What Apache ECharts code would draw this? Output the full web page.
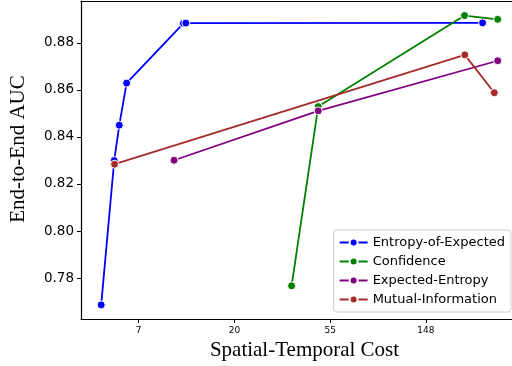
<!DOCTYPE html>
<html><head><meta charset="utf-8">
<script src="https://cdn.jsdelivr.net/npm/echarts@6/dist/echarts.min.js"></script>
<style>html,body{margin:0;padding:0;background:#fff;overflow:hidden;width:512px;height:366px}#c{width:518px;height:366px}</style>
</head><body><div id="c"></div>
<script>
const seriesNames = ['Entropy-of-Expected', 'Confidence', 'Expected-Entropy', 'Mutual-Information'];
const colors = ['#0000ff', '#008000', '#800080', '#a52a2a'];

const eoeCost = [5.0, 5.73, 6.04, 6.52, 11.8, 12.1, 268];
const eoeAUC  = [0.7686, 0.830, 0.845, 0.8629, 0.8883, 0.8884, 0.8885];

const confCost = [36.5, 48.2, 222, 314];
const confAUC  = [0.7767, 0.8529, 0.8916, 0.8900];

const eeCost = [10.7, 48.2, 314];
const eeAUC  = [0.8301, 0.8511, 0.8724];

const miCost = [5.75, 222.7, 303];
const miAUC  = [0.8284, 0.8749, 0.8588];

const xMin = 4.05, xMax = 388;
const yMin = 0.7626, yMax = 0.8978;

const costs = [eoeCost, confCost, eeCost, miCost];
const aucs = [eoeAUC, confAUC, eeAUC, miAUC];

const chart = echarts.init(document.getElementById('c'), null, {renderer: 'canvas'});
chart.setOption({
  animation: false,
  backgroundColor: '#fff',
  grid: {left: 80, right: 0, top: 1, bottom: 47, show: false},
  xAxis: [{
    type: 'log', logBase: Math.E, min: xMin, max: xMax,
    name: 'Spatial-Temporal Cost', nameLocation: 'middle', nameGap: 21,
    nameTextStyle: {fontFamily: 'Liberation Serif', fontSize: 21, color: '#000', padding: [0, 0, 0, 10]},
    axisLine: {show: true, lineStyle: {color: '#000', width: 1.2}},
    axisTick: {show: true, inside: false, length: 4, lineStyle: {color: '#000'}},
    axisLabel: {showMinLabel: false, showMaxLabel: false, fontFamily: 'DejaVu Sans', fontSize: 9, color: '#000', margin: 7,
      formatter: v => String(Math.round(v))},
    splitLine: {show: false}
  }, {
    type: 'log', logBase: Math.E, min: xMin, max: xMax, position: 'top',
    axisLine: {show: true, lineStyle: {color: '#000', width: 1.2}},
    axisTick: {show: false}, axisLabel: {show: false}, splitLine: {show: false}
  }],
  yAxis: {
    type: 'value', min: yMin, max: yMax, splitNumber: 7,
    name: 'End-to-End AUC', nameLocation: 'middle', nameGap: 52,
    nameTextStyle: {fontFamily: 'Liberation Serif', fontSize: 21, color: '#000', padding: [0, 0, 0, 22]},
    axisLine: {show: true, lineStyle: {color: '#000', width: 1.2}},
    axisTick: {show: true, inside: false, length: 4, lineStyle: {color: '#000'}},
    axisLabel: {showMinLabel: false, showMaxLabel: false, fontFamily: 'DejaVu Sans', fontSize: 13.5, color: '#000', margin: 7,
      formatter: v => v.toFixed(2)},
    splitLine: {show: false}
  },
  legend: {
    orient: 'vertical', right: 7, bottom: 54,
    itemWidth: 28, itemHeight: 10, itemGap: 6,
    padding: [6, 6, 6, 5],
    backgroundColor: '#fff', borderColor: '#cccccc', borderWidth: 1, borderRadius: 3,
    textStyle: {fontFamily: 'DejaVu Sans', fontSize: 13, color: '#000'},
    data: seriesNames
  },
  series: seriesNames.map((n, i) => ({
    name: n, type: 'line', xAxisIndex: 0,
    data: costs[i].map((c, j) => [c, aucs[i][j]]),
    symbol: 'circle', symbolSize: 8,
    lineStyle: {color: colors[i], width: 1.8},
    itemStyle: {color: colors[i], borderColor: '#fff', borderWidth: 1},
    z: 2 + i
  }))
});
</script></body></html>
